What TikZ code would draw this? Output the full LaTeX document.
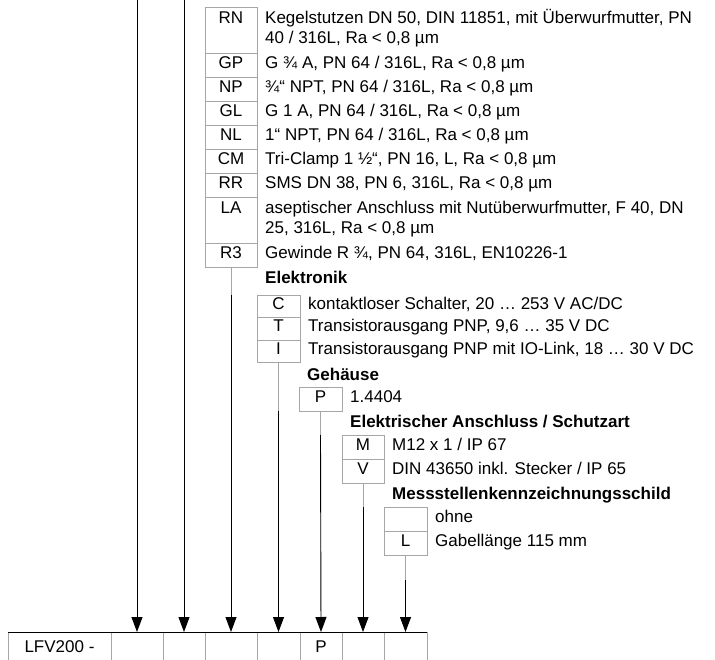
\documentclass[tikz,border=0pt]{standalone}
\usepackage{fontspec}
\setmainfont{Liberation Sans}
\usetikzlibrary{positioning,arrows.meta,calc}

\begin{document}
\begin{tikzpicture}[x=1pt, y=-1pt,
  every node/.style={font=\fontsize{17}{20}\selectfont},
  code/.style={draw=gray!70, line width=0.6pt, inner sep=0pt, outer sep=0pt,
               minimum width=#1, text height=15.5pt, text depth=8.5pt},
  slim/.style={text height=14.5pt, text depth=8pt},
  twin/.style={text height=17pt, text depth=29pt},
  desc/.style={anchor=base west, align=left, inner sep=0pt},
  head/.style={anchor=base west, inner sep=0pt, font=\fontsize{17}{20}\selectfont\bfseries},
  cell/.style={draw=gray!70, line width=0.6pt, inner sep=0pt, outer sep=0pt,
               minimum width=#1, minimum height=30pt},
  stub/.style={draw=gray!70, line width=0.6pt},
  arr/.style={-{Triangle[length=15pt,width=11pt]}, line width=0.9pt}
]
\useasboundingbox (0,0) rectangle (715,660);

% Prozessanschluss
\node[code=52, twin, anchor=north west] (rn) at (205,7) {RN};
\node[code=52, below=0pt of rn] (gp) {GP};
\node[code=52, below=0pt of gp] (np) {NP};
\node[code=52, below=0pt of np] (gl) {GL};
\node[code=52, below=0pt of gl] (nl) {NL};
\node[code=52, below=0pt of nl] (cm) {CM};
\node[code=52, below=0pt of cm] (rr) {RR};
\node[code=52, twin, below=0pt of rr] (la) {LA};
\node[code=52, below=0pt of la] (r3) {R3};
% zweizeilig: base = Grundlinie der letzten Zeile
\node[desc] (rn-txt) at ($(rn.base east)+(8,20)$) {Kegelstutzen DN 50, DIN 11851, mit Überwurfmutter, PN\\40 / 316L, Ra < 0,8 µm};
\node[desc] (gp-txt) at ($(gp.base east)+(8,0)$) {G ¾ A, PN 64 / 316L, Ra < 0,8 µm};
\node[desc] (np-txt) at ($(np.base east)+(8,0)$) {¾“ NPT, PN 64 / 316L, Ra < 0,8 µm};
\node[desc] (gl-txt) at ($(gl.base east)+(8,0)$) {G 1 A, PN 64 / 316L, Ra < 0,8 µm};
\node[desc] (nl-txt) at ($(nl.base east)+(8,0)$) {1“ NPT, PN 64 / 316L, Ra < 0,8 µm};
\node[desc] (cm-txt) at ($(cm.base east)+(8,0)$) {Tri-Clamp 1 ½“, PN 16, L, Ra < 0,8 µm};
\node[desc] (rr-txt) at ($(rr.base east)+(8,0)$) {SMS DN 38, PN 6, 316L, Ra < 0,8 µm};
\node[desc] (la-txt) at ($(la.base east)+(8,20)$) {aseptischer Anschluss mit Nutüberwurfmutter, F 40, DN\\25, 316L, Ra < 0,8 µm};
\node[desc] (r3-txt) at ($(r3.base east)+(8,0)$) {Gewinde R ¾, PN 64, 316L, EN10226-1};

% Elektronik
\node[head] (el-head) at (265,284) {Elektronik};
\node[code=43, slim, anchor=north west] (elC) at (257,295) {C};
\node[code=43, slim, below=0pt of elC] (elT) {T};
\node[code=43, slim, below=0pt of elT] (elI) {I};
\node[desc] (elC-txt) at ($(elC.base east)+(8,0)$) {kontaktloser Schalter, 20 … 253 V AC/DC};
\node[desc] (elT-txt) at ($(elT.base east)+(8,0)$) {Transistorausgang PNP, 9,6 … 35 V DC};
\node[desc] (elI-txt) at ($(elI.base east)+(8,0)$) {Transistorausgang PNP mit IO-Link, 18 … 30 V DC};

% Gehaeuse
\node[head] (ge-head) at (307,380) {Gehäuse};
\node[code=43, anchor=north west] (geP) at (299,387) {P};
\node[desc] (geP-txt) at ($(geP.base east)+(8,0)$) {1.4404};

% Elektrischer Anschluss
\node[head] (an-head) at (350,427) {Elektrischer Anschluss / Schutzart};
\node[code=42, anchor=north west] (anM) at (342,435) {M};
\node[code=42, below=0pt of anM] (anV) {V};
\node[desc] (anM-txt) at ($(anM.base east)+(8,0)$) {M12 x 1 / IP 67};
\node[desc] (anV-txt) at ($(anV.base east)+(8,0)$) {DIN 43650 inkl. Stecker / IP 65};

% Messstellenschild
\node[head] (ms-head) at (392,499) {Messstellenkennzeichnungsschild};
\node[code=43, anchor=north west] (msNone) at (384,507) {};
\node[code=43, below=0pt of msNone] (msL) {L};
\node[desc] (msNone-txt) at ($(msNone.base east)+(8,0)$) {ohne};
\node[desc] (msL-txt) at ($(msL.base east)+(8,0)$) {Gabellänge 115 mm};

% Typenschluessel
\node[cell=103, anchor=north west] (b1) at (8,632) {LFV200 -};
\node[cell=52, right=0pt of b1] (b2) {};
\node[cell=42, right=0pt of b2] (b3) {};
\node[cell=52, right=0pt of b3] (b4) {};
\node[cell=43, right=0pt of b4] (b5) {};
\node[cell=42, right=0pt of b5] (b6) {P};
\node[cell=42, right=0pt of b6] (b7) {};
\node[cell=43, right=0pt of b7] (b8) {};
\draw[line width=0.9pt] (b1.north west) -- (b8.north east);

\coordinate (top1) at (b2.north |- 0,0);
\coordinate (top2) at (b3.north |- 0,0);
\draw[arr] (top1) -- (b2.north);
\draw[arr] (top2) -- (b3.north);
\draw[stub] (r3.south) -- (r3.south |- elC.north);
\draw[arr] (r3.south |- elC.north) -- (b4.north);
\draw[stub] (elI.south) -- (elI.south |- geP.south);
\draw[arr] (elI.south |- geP.south) -- (b5.north);
\draw[stub] (geP.south) -- (geP.south |- anM.north);
\draw[arr] (geP.south |- anM.north) -- (b6.north);
\draw[stub] (anV.south) -- (anV.south |- msNone.north);
\draw[arr] (anV.south |- msNone.north) -- (b7.north);
\draw[stub] (msL.south) -- ++(0,25) coordinate (msL-end);
\draw[arr] (msL-end) -- (b8.north);
\end{tikzpicture}
\end{document}
